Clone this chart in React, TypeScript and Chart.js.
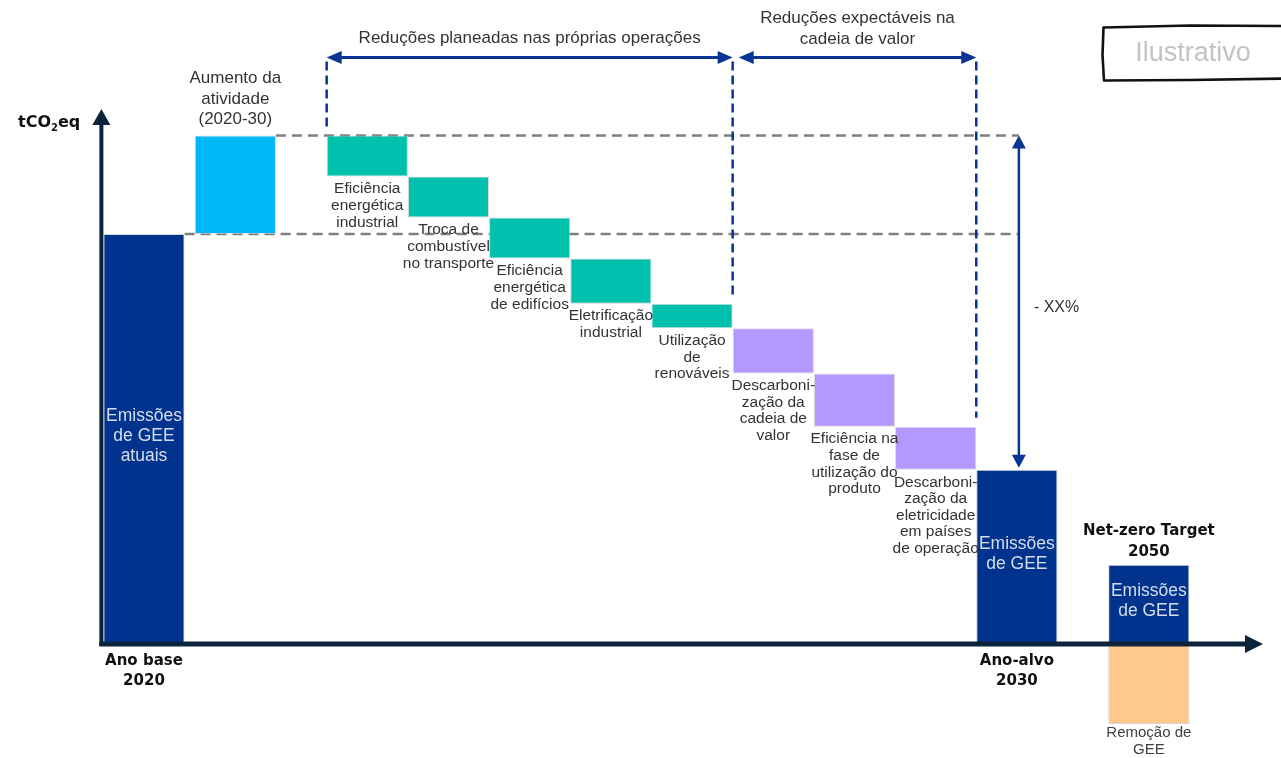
import React, { useEffect, useRef } from "react";
import Chart from "chart.js/auto";

// ---------- DATA ----------
const categories = [
  "Emissões de GEE atuais (2020)",
  "Aumento da atividade (2020-30)",
  "Eficiência energética industrial",
  "Troca de combustível no transporte",
  "Eficiência energética de edifícios",
  "Eletrificação industrial",
  "Utilização de renováveis",
  "Descarbonização da cadeia de valor",
  "Eficiência na fase de utilização do produto",
  "Descarbonização da eletricidade em países de operação",
  "Emissões de GEE (2030)",
  "Emissões de GEE (2050)",
];
// floating bars: start / end values (tCO2eq, illustrative)
const barStart = [0, 100, 124, 114, 104, 94, 83, 77, 66, 53, 0, 0];
const barEnd = [100, 124, 114, 104, 94, 83, 77, 66, 53, 42.5, 42.5, 19.3];
const removal2050 = -19.5;
const barKind = ["total", "increase", "own", "own", "own", "own", "own", "value", "value", "value", "total", "total"];

const insideLabels: Record<number, string[]> = {
  0: ["Emissões", "de GEE", "atuais"],
  10: ["Emissões", "de GEE"],
  11: ["Emissões", "de GEE"],
};
const aboveLabels: Record<number, string[]> = {
  1: ["Aumento da", "atividade", "(2020-30)"],
};
const belowLabels: Record<number, string[]> = {
  2: ["Eficiência", "energética", "industrial"],
  3: ["Troca de", "combustível", "no transporte"],
  4: ["Eficiência", "energética", "de edifícios"],
  5: ["Eletrificação", "industrial"],
  6: ["Utilização", "de", "renováveis"],
  7: ["Descarboni-", "zação da", "cadeia de", "valor"],
  8: ["Eficiência na", "fase de", "utilização do", "produto"],
  9: ["Descarboni-", "zação da", "eletricidade", "em países", "de operação"],
};
const xTickLabels: Record<number, string[]> = {
  0: ["Ano base", "2020"],
  10: ["Ano-alvo", "2030"],
};
const targetLabel = ["Net-zero Target", "2050"];
const removalLabel = ["Remoção de", "GEE"];
const ownTitle = "Reduções planeadas nas próprias operações";
const valueTitle = ["Reduções expectáveis na", "cadeia de valor"];
const changeLabel = "- XX%";
const yAxisTitle = ["tCO", "2", "eq"];
const stampText = "Ilustrativo";

// ---------- LAYOUT / STYLE ----------
const W = 1281;
const H = 758;
const slotIndex = [4, 13, 26, 34, 42, 50, 58, 66, 74, 82, 90, 103];
const slotCount = 115;
const slotPx = 10.15;
const plotLeft = 98.3;
const colors: Record<string, string> = {
  total: "#00338D",
  increase: "#00B8F5",
  own: "#00C0AE",
  value: "#B497FF",
  removal: "#FFC98E",
};
const AXIS = "#0C233C";
const NAVY = "#0A3595";
const GRAY = "#808080";
const TEXT = "#333333";
const REG = "'Liberation Sans', Arial, sans-serif";
const BOLD = "bold 15px 'DejaVu Sans', sans-serif";

function drawLines(ctx: CanvasRenderingContext2D, arr: string[], x: number, y0: number, lh: number, font: string, color: string, align: CanvasTextAlign = "center") {
  ctx.save();
  ctx.font = font;
  ctx.fillStyle = color;
  ctx.textAlign = align;
  ctx.textBaseline = "middle";
  arr.forEach((t, i) => ctx.fillText(t, x, y0 + i * lh));
  ctx.restore();
}

function arrowHead(ctx: CanvasRenderingContext2D, tx: number, ty: number, dx: number, dy: number, len: number, half: number, color: string) {
  const px = -dy, py = dx;
  ctx.save();
  ctx.fillStyle = color;
  ctx.beginPath();
  ctx.moveTo(tx, ty);
  ctx.lineTo(tx - dx * len + px * half, ty - dy * len + py * half);
  ctx.lineTo(tx - dx * len - px * half, ty - dy * len - py * half);
  ctx.closePath();
  ctx.fill();
  ctx.restore();
}

function line(ctx: CanvasRenderingContext2D, x1: number, y1: number, x2: number, y2: number, color: string, w: number, dash: number[] = []) {
  ctx.save();
  ctx.strokeStyle = color;
  ctx.lineWidth = w;
  ctx.setLineDash(dash);
  ctx.beginPath();
  ctx.moveTo(x1, y1);
  ctx.lineTo(x2, y2);
  ctx.stroke();
  ctx.restore();
}

function barBox(chart: any, i: number) {
  const el: any = chart.getDatasetMeta(0).data[slotIndex[i]];
  const top = Math.min(el.y, el.base);
  const bottom = Math.max(el.y, el.base);
  return { x: el.x, left: el.x - el.width / 2, right: el.x + el.width / 2, top, bottom };
}

const annotations = {
  id: "annotations",
  beforeDatasetsDraw(chart: any) {
    const ctx = chart.ctx as CanvasRenderingContext2D;
    const y = chart.scales.y;
    const b1 = barBox(chart, 0);
    const b2 = barBox(chart, 1);
    const b11 = barBox(chart, 10);
    const endX = b11.x + 2;
    line(ctx, b1.right, y.getPixelForValue(barEnd[0]), endX, y.getPixelForValue(barEnd[0]), GRAY, 2.5, [10, 6]);
    line(ctx, b2.right, y.getPixelForValue(barEnd[1]), endX, y.getPixelForValue(barEnd[1]), GRAY, 2.5, [10, 6]);
  },
  afterDatasetsDraw(chart: any) {
    const ctx = chart.ctx as CanvasRenderingContext2D;
    const y = chart.scales.y;
    const zero = y.getPixelForValue(0);
    const boxes = categories.map((_, i) => barBox(chart, i));

    // labels below / above / inside bars
    Object.keys(belowLabels).forEach((k) => {
      const i = Number(k);
      const b = boxes[i];
      drawLines(ctx, belowLabels[i], b.x, b.bottom + 12.5, 16.6, `15.5px ${REG}`, TEXT);
    });
    Object.keys(aboveLabels).forEach((k) => {
      const i = Number(k);
      const b = boxes[i];
      const arr = aboveLabels[i];
      drawLines(ctx, arr, b.x, b.top - 16 - (arr.length - 1) * 20.5, 20.5, `17px ${REG}`, TEXT);
    });
    Object.keys(insideLabels).forEach((k) => {
      const i = Number(k);
      const b = boxes[i];
      const arr = insideLabels[i];
      const c = (b.top + b.bottom) / 2 - 3;
      drawLines(ctx, arr, b.x, c - ((arr.length - 1) * 20) / 2, 20, `17.5px ${REG}`, "#D5DDEB");
    });

    // removal label
    const rem: any = chart.getDatasetMeta(1).data[slotIndex[11]];
    const remBottom = Math.max(rem.y, rem.base);
    drawLines(ctx, removalLabel, rem.x, remBottom + 9, 17, `15px ${REG}`, "#404040");

    // target label above 2050 bar
    drawLines(ctx, targetLabel, boxes[11].x, boxes[11].top - 34, 21, BOLD, "#111111");

    // x tick labels
    Object.keys(xTickLabels).forEach((k) => {
      const i = Number(k);
      drawLines(ctx, xTickLabels[i], boxes[i].x, zero + 17, 20, BOLD, "#111111");
    });

    // axes with arrows
    const axX = boxes[0].left - 2;
    line(ctx, axX, zero + 2, axX, 122, AXIS, 4);
    arrowHead(ctx, axX, 109, 0, -1, 16, 9, AXIS);
    line(ctx, axX - 2, zero, 1248, zero, AXIS, 5);
    arrowHead(ctx, 1263, zero, 1, 0, 18, 9, AXIS);

    // y-axis title tCO2eq
    ctx.save();
    ctx.fillStyle = "#111111";
    ctx.textBaseline = "middle";
    ctx.textAlign = "left";
    let tx = 18;
    ctx.font = "bold 16px 'DejaVu Sans', sans-serif";
    ctx.fillText(yAxisTitle[0], tx, 123);
    tx += ctx.measureText(yAxisTitle[0]).width;
    ctx.font = "bold 10px 'DejaVu Sans', sans-serif";
    ctx.fillText(yAxisTitle[1], tx, 128);
    tx += ctx.measureText(yAxisTitle[1]).width;
    ctx.font = "bold 16px 'DejaVu Sans', sans-serif";
    ctx.fillText(yAxisTitle[2], tx, 123);
    ctx.restore();

    // vertical navy dashed separators
    const arrowY = 57.5;
    const sepOwnL = boxes[2].left;
    const sepOwnR = boxes[6].right;
    const sepValR = boxes[9].right;
    line(ctx, sepOwnL, arrowY + 4, sepOwnL, boxes[2].top - 4, NAVY, 2.5, [9, 5]);
    line(ctx, sepOwnR, arrowY + 4, sepOwnR, boxes[6].top - 6, NAVY, 2.5, [9, 5]);
    line(ctx, sepValR, arrowY + 4, sepValR, boxes[9].top - 9, NAVY, 2.5, [9, 5]);

    // horizontal double arrows
    line(ctx, sepOwnL + 10, arrowY, sepOwnR - 10, arrowY, NAVY, 3);
    arrowHead(ctx, sepOwnL, arrowY, -1, 0, 15, 6.5, NAVY);
    arrowHead(ctx, sepOwnR, arrowY, 1, 0, 15, 6.5, NAVY);
    const v0 = sepOwnR + 6;
    line(ctx, v0 + 10, arrowY, sepValR - 10, arrowY, NAVY, 3);
    arrowHead(ctx, v0, arrowY, -1, 0, 15, 6.5, NAVY);
    arrowHead(ctx, sepValR, arrowY, 1, 0, 15, 6.5, NAVY);

    drawLines(ctx, [ownTitle], (sepOwnL + sepOwnR) / 2, 38.5, 21, `17px ${REG}`, TEXT);
    drawLines(ctx, valueTitle, (v0 + sepValR) / 2, 18.5, 21, `17px ${REG}`, TEXT);

    // vertical change arrow
    const vx = boxes[10].x + 2;
    const vTop = y.getPixelForValue(barEnd[1]);
    const vBot = boxes[10].top - 2;
    line(ctx, vx, vTop + 8, vx, vBot - 8, NAVY, 2.5);
    arrowHead(ctx, vx, vTop, 0, -1, 13, 7, NAVY);
    arrowHead(ctx, vx, vBot, 0, 1, 13, 7, NAVY);
    drawLines(ctx, [changeLabel], vx + 15, (vTop + vBot) / 2 + 6, 20, `16px ${REG}`, TEXT, "left");

    // "Ilustrativo" stamp
    ctx.save();
    ctx.strokeStyle = "#111111";
    ctx.lineWidth = 2.6;
    ctx.lineJoin = "round";
    ctx.beginPath();
    ctx.moveTo(1290, 26);
    ctx.lineTo(1190, 25.5);
    ctx.lineTo(1103.5, 27.5);
    ctx.lineTo(1102.5, 55);
    ctx.lineTo(1104, 80.5);
    ctx.lineTo(1190, 80);
    ctx.lineTo(1290, 78.5);
    ctx.stroke();
    ctx.restore();
    drawLines(ctx, [stampText], 1193, 54, 20, `27px ${REG}`, "#C4C4C4");
  },
};

export default function App() {
  const ref = useRef<HTMLCanvasElement | null>(null);
  useEffect(() => {
    if (!ref.current) return;
    const labels = Array.from({ length: slotCount }, (_, s) => {
      const i = slotIndex.indexOf(s);
      return i >= 0 ? categories[i] : "";
    });
    const mainData: any[] = Array(slotCount).fill(null);
    const mainColors: string[] = Array(slotCount).fill("transparent");
    const remData: any[] = Array(slotCount).fill(null);
    slotIndex.forEach((s, i) => {
      mainData[s] = [barStart[i], barEnd[i]];
      mainColors[s] = colors[barKind[i]];
    });
    remData[slotIndex[11]] = [removal2050, 0];

    const chart = new Chart(ref.current, {
      type: "bar",
      data: {
        labels,
        datasets: [
          {
            label: "Emissões",
            data: mainData,
            backgroundColor: mainColors,
            borderColor: "rgba(200,200,200,0.7)",
            borderWidth: 1,
            borderSkipped: false,
            grouped: false,
            barPercentage: 8,
            categoryPercentage: 1,
          },
          {
            label: "Remoção de GEE",
            data: remData,
            backgroundColor: colors.removal,
            borderColor: "rgba(200,200,200,0.7)",
            borderWidth: 1,
            borderSkipped: false,
            grouped: false,
            barPercentage: 8,
            categoryPercentage: 1,
          },
        ],
      },
      options: {
        responsive: false,
        animation: false,
        events: [],
        layout: {
          padding: {
            left: plotLeft,
            right: W - plotLeft - slotCount * slotPx,
            top: 70,
            bottom: 11.5,
          },
        },
        plugins: { legend: { display: false }, tooltip: { enabled: false } },
        scales: {
          x: { type: "category", display: false, offset: true, grid: { display: false } },
          y: { display: false, min: -25, max: 140, grid: { display: false } },
        },
      },
      plugins: [annotations],
    });
    return () => chart.destroy();
  }, []);
  return (
    <div style={{ position: "fixed", left: 0, top: 0, width: W, height: H, background: "#ffffff" }}>
      <canvas ref={ref} width={W} height={H} style={{ display: "block", width: W, height: H }} />
    </div>
  );
}
